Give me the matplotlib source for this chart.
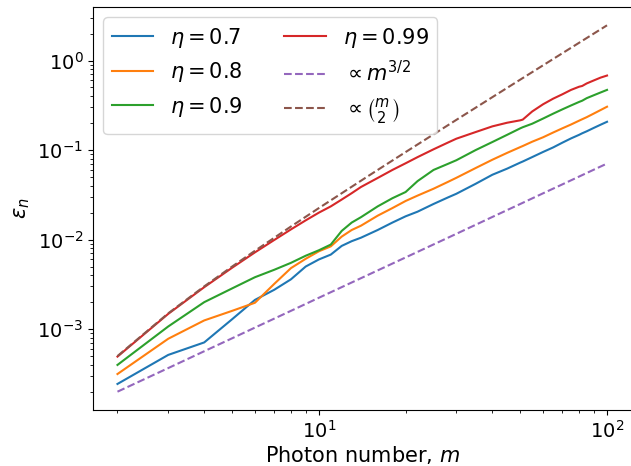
import matplotlib
matplotlib.use("Agg")
import matplotlib.pyplot as plt

# photon numbers at which the curves were read
m = [2, 3, 4, 5, 6, 7, 8, 9, 10, 11, 12, 13, 14, 16, 18, 20, 22, 25, 28, 30,
     35, 40, 45, 50, 51, 55, 60, 65, 70, 75, 80, 82, 85, 90, 95, 100]

eps_07 = [2.44e-4, 5.15e-4, 7.1e-4, 1.29e-3, 2.12e-3, 2.75e-3, 3.6e-3, 5.0e-3,
          6.0e-3, 6.8e-3, 8.5e-3, 9.6e-3, 0.0105, 0.0128, 0.0155, 0.0182,
          0.0205, 0.0250, 0.0295, 0.0325, 0.042, 0.053, 0.062, 0.0725, 0.0745,
          0.0835, 0.0953, 0.107, 0.121, 0.135, 0.148, 0.154, 0.162, 0.177,
          0.192, 0.207]
eps_08 = [3.15e-4, 7.8e-4, 1.25e-3, 1.6e-3, 1.97e-3, 3.2e-3, 4.8e-3, 6.1e-3,
          7.4e-3, 8.4e-3, 0.0108, 0.0128, 0.0143, 0.0185, 0.0225, 0.027,
          0.031, 0.037, 0.044, 0.049, 0.063, 0.078, 0.093, 0.108, 0.111,
          0.124, 0.139, 0.157, 0.175, 0.193, 0.213, 0.221, 0.233, 0.256,
          0.28, 0.305]
eps_09 = [3.98e-4, 1.07e-3, 2.0e-3, 2.85e-3, 3.8e-3, 4.6e-3, 5.5e-3, 6.6e-3,
          7.6e-3, 8.8e-3, 0.0125, 0.0155, 0.0178, 0.0235, 0.029, 0.034,
          0.045, 0.060, 0.070, 0.077, 0.100, 0.123, 0.148, 0.175, 0.180,
          0.197, 0.225, 0.255, 0.285, 0.315, 0.345, 0.356, 0.38, 0.41,
          0.44, 0.47]
eps_099 = [4.93e-4, 1.48e-3, 2.94e-3, 4.85e-3, 7.2e-3, 9.9e-3, 0.013, 0.0164,
           0.020, 0.0235, 0.028, 0.033, 0.0387, 0.0488, 0.060, 0.0712,
           0.0834, 0.102, 0.121, 0.134, 0.159, 0.184, 0.202, 0.215, 0.219,
           0.27, 0.325, 0.375, 0.42, 0.47, 0.51, 0.52, 0.555, 0.60, 0.645,
           0.68]

# reference scalings
m_ref = [2, 3, 4, 5, 6, 8, 10, 15, 20, 30, 40, 50, 60, 70, 80, 90, 100]
ref_m32 = [2.0e-4, 3.67e-4, 5.66e-4, 7.9e-4, 1.04e-3, 1.6e-3, 2.24e-3,
           4.11e-3, 6.32e-3, 0.0116, 0.0179, 0.025, 0.0329, 0.0414, 0.0506,
           0.0604, 0.0707]
ref_binom = [5e-4, 1.5e-3, 3e-3, 5e-3, 7.5e-3, 0.014, 0.0225, 0.0525, 0.095,
             0.2175, 0.39, 0.6125, 0.885, 1.2075, 1.58, 2.0025, 2.475]

plt.rcParams['font.size'] = 14

fig = plt.figure(figsize=(6.31, 4.66), dpi=100)
ax = fig.add_axes([93/631, 56/466, 538.5/631, 403/466])

ax.plot(m, eps_07, color='C0', label=r'$\eta=0.7$')
ax.plot(m, eps_08, color='C1', label=r'$\eta=0.8$')
ax.plot(m, eps_09, color='C2', label=r'$\eta=0.9$')
ax.plot(m, eps_099, color='C3', label=r'$\eta=0.99$')
ax.plot(m_ref, ref_m32, '--', color='C4', label=r'$\propto m^{3/2}$')
ax.plot(m_ref, ref_binom, '--', color='C5', label=r'$\propto \binom{m}{2}$')

ax.set_xscale('log')
ax.set_yscale('log')
ax.set_xlabel(r'Photon number, $m$', fontsize=15, labelpad=2)
ax.set_ylabel(r'$\varepsilon_n$', fontsize=15)
ax.legend(loc='upper left', ncol=2, fontsize=15)

fig.savefig('out.png', dpi=100)
